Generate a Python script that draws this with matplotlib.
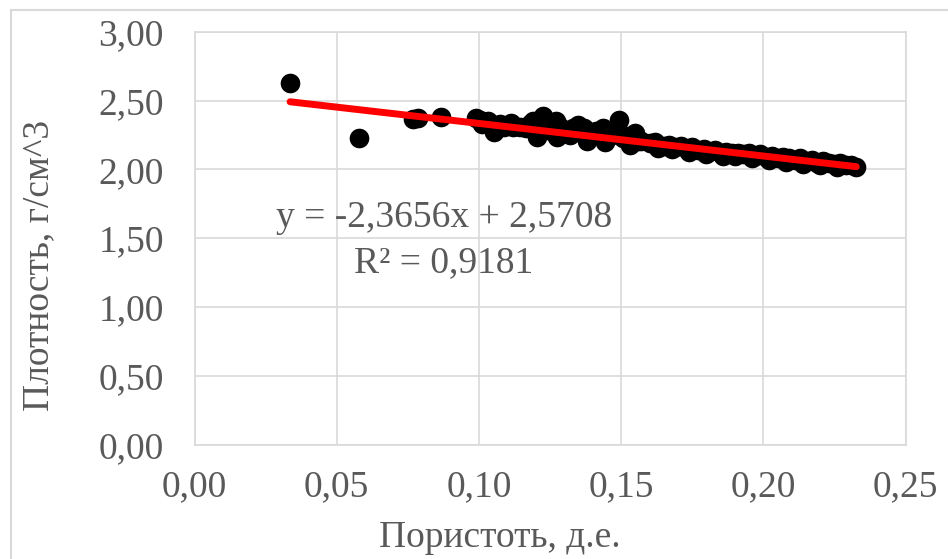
import matplotlib
matplotlib.use("Agg")
import matplotlib.pyplot as plt
from matplotlib.patches import Rectangle
from matplotlib.ticker import FuncFormatter
import numpy as np

# ---------------------------------------------------------------------------
# Data
# ---------------------------------------------------------------------------
porosity = [
    0.0336, 0.0578, 0.0768, 0.0786, 0.0866,
    0.0990, 0.1005, 0.1010, 0.1033, 0.1040, 0.1053, 0.1060, 0.1074, 0.1090,
    0.1112, 0.1120, 0.1144, 0.1165, 0.1180, 0.1190, 0.1204, 0.1215, 0.1225,
    0.1242, 0.1250, 0.1260, 0.1271, 0.1274, 0.1285, 0.1302, 0.1320, 0.1330,
    0.1348, 0.1360, 0.1370, 0.1380, 0.1397, 0.1410, 0.1420, 0.1436, 0.1443,
    0.1450, 0.1467, 0.1480, 0.1492, 0.1506, 0.1520, 0.1530, 0.1540, 0.1548,
    0.1560,
    0.157, 0.160, 0.162, 0.163, 0.165, 0.167, 0.168, 0.169, 0.171, 0.173,
    0.174, 0.175, 0.177, 0.179, 0.180, 0.181, 0.183, 0.185, 0.186, 0.187,
    0.189, 0.190, 0.191, 0.193, 0.195, 0.196, 0.197, 0.199, 0.201, 0.202,
    0.203, 0.205, 0.207, 0.208, 0.209, 0.211, 0.213, 0.214, 0.215, 0.217,
    0.219, 0.220, 0.221, 0.223, 0.225, 0.226, 0.227, 0.229, 0.231, 0.2327,
]
density = [
    2.627, 2.228, 2.366, 2.373, 2.380,
    2.373, 2.360, 2.330, 2.351, 2.330, 2.271, 2.300, 2.329, 2.310,
    2.337, 2.310, 2.308, 2.300, 2.330, 2.351, 2.235, 2.320, 2.388,
    2.300, 2.330, 2.270, 2.351, 2.235, 2.310, 2.279, 2.250, 2.300,
    2.322, 2.270, 2.300, 2.206, 2.264, 2.280, 2.250, 2.300, 2.199,
    2.260, 2.250, 2.270, 2.358, 2.228, 2.240, 2.177, 2.220, 2.264,
    2.210,
    2.21, 2.19, 2.20, 2.155, 2.17, 2.18, 2.145, 2.16, 2.17, 2.15,
    2.13, 2.16, 2.14, 2.15, 2.115, 2.13, 2.14, 2.12, 2.10, 2.13,
    2.12, 2.095, 2.12, 2.11, 2.12, 2.08, 2.10, 2.11, 2.09, 2.07,
    2.10, 2.08, 2.09, 2.055, 2.08, 2.07, 2.08, 2.04, 2.06, 2.07,
    2.05, 2.03, 2.06, 2.05, 2.04, 2.02, 2.05, 2.03, 2.03, 2.02,
]

# Trendline coefficients as printed on the chart
slope = -2.3656
intercept = 2.5708
r_squared = 0.9181

x_ticks = [0.00, 0.05, 0.10, 0.15, 0.20, 0.25]
y_ticks = [0.00, 0.50, 1.00, 1.50, 2.00, 2.50, 3.00]

# ---------------------------------------------------------------------------
# Style
# ---------------------------------------------------------------------------
plt.rcParams['font.family'] = ['Liberation Serif', 'DejaVu Serif']
text_color = '#595959'
grid_color = '#d9d9d9'


def comma(v, pos=None):
    return f"{v:.2f}".replace('.', ',')


fig = plt.figure(figsize=(9.48, 5.59), dpi=100)
ax = fig.add_axes([194.5 / 948, 114 / 559, 711 / 948, 413.3 / 559])

ax.scatter(porosity, density, s=200, color='black', zorder=3, linewidths=0)

xs = np.array([min(porosity), max(porosity)])
ax.plot(xs, slope * xs + intercept, color='#ff0000', lw=5,
        solid_capstyle='round', zorder=4)

ax.set_xlim(0, 0.25)
ax.set_ylim(0, 3.0)
ax.set_xticks(x_ticks)
ax.set_yticks(y_ticks)
ax.xaxis.set_major_formatter(FuncFormatter(comma))
ax.yaxis.set_major_formatter(FuncFormatter(comma))
ax.tick_params(length=0, labelsize=27, colors=text_color)
ax.tick_params(axis='x', pad=18)
ax.tick_params(axis='y', pad=22)
ax.grid(True, color=grid_color, lw=1.2, zorder=0)
ax.set_axisbelow(True)
for sp in ax.spines.values():
    sp.set_color(grid_color)
    sp.set_linewidth(1.2)

# trendline label
ax.text(0.0877, 1.582, "y = -2,3656x + 2,5708", ha='center', va='baseline',
        fontsize=27, color=text_color, zorder=5)
ax.text(0.0877, 1.255, f"R² = {r_squared:.4f}".replace('.', ','),
        ha='center', va='baseline', fontsize=27, color=text_color, zorder=5)

# axis titles
fig.text(500 / 948, 1 - 538 / 559, "Пористоть, д.е.", ha='center', va='center',
         fontsize=27, color=text_color)
fig.text(39 / 948, 1 - 265 / 559, "Плотность, г/см^3", ha='center', va='center',
         rotation=90, fontsize=27, color=text_color)

# chart area border
fig.add_artist(Rectangle((11 / 948, -0.1), 1.2, 1.1 - 10 / 559,
                         transform=fig.transFigure, fill=False,
                         edgecolor=grid_color, lw=1.5))

fig.savefig("out.png", dpi=100, facecolor='white')
